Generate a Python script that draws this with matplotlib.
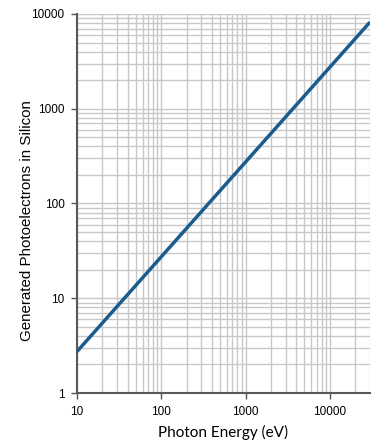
import matplotlib
matplotlib.use("Agg")
import matplotlib.pyplot as plt
from matplotlib.ticker import LogLocator, FixedLocator, FixedFormatter, NullFormatter

energy_ev = [10, 30000]
photoelectrons = [2.74, 8220]
x_ticks = [10, 100, 1000, 10000]
x_labels = ["10", "100", "1000", "10000"]
y_ticks = [1, 10, 100, 1000, 10000]
y_labels = ["1", "10", "100", "1000", "10000"]

fig = plt.figure(figsize=(3.77, 4.44), dpi=100)
ax = fig.add_axes([77/377, (444-393)/444, (370-77)/377, (393-14)/444])
ax.plot(energy_ev, photoelectrons, color="#1b5c8f", lw=2.5, solid_capstyle="butt", zorder=3)
ax.set_xscale("log")
ax.set_yscale("log")
ax.set_xlim(10, 30000)
ax.set_ylim(1, 10000)

ax.xaxis.set_major_locator(FixedLocator(x_ticks))
ax.xaxis.set_major_formatter(FixedFormatter(x_labels))
ax.yaxis.set_major_locator(FixedLocator(y_ticks))
ax.yaxis.set_major_formatter(FixedFormatter(y_labels))
ax.xaxis.set_minor_locator(LogLocator(base=10, subs=range(2, 10)))
ax.yaxis.set_minor_locator(LogLocator(base=10, subs=range(2, 10)))
ax.xaxis.set_minor_formatter(NullFormatter())
ax.yaxis.set_minor_formatter(NullFormatter())

ax.grid(True, which="both", color="#c8c8c8", lw=1.0, zorder=0)
ax.set_axisbelow(True)
ax.tick_params(which="minor", length=0)
ax.tick_params(which="major", length=4, width=1, color="#555555", labelsize=8.5, pad=5)
for lab in ax.get_xticklabels() + ax.get_yticklabels():
    lab.set_fontfamily("Liberation Sans")

for s in ["top", "right"]:
    ax.spines[s].set_visible(False)
for s in ["left", "bottom"]:
    ax.spines[s].set_color("#555a5c")
    ax.spines[s].set_linewidth(1.5)

ax.set_xlabel("Photon Energy (eV)", fontfamily="Lato", fontsize=11, labelpad=5)
ax.set_ylabel("Generated Photoelectrons in Silicon", fontfamily="Liberation Sans",
              fontsize=10.9)
ax.yaxis.set_label_coords(-0.147, 0.456)

fig.savefig("out.png", dpi=100)
